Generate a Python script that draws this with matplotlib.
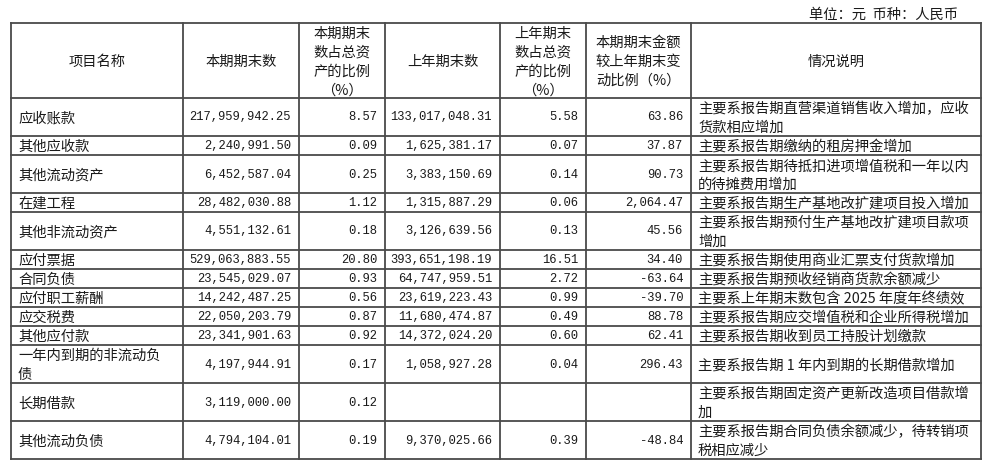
import matplotlib
matplotlib.use("Agg")
import matplotlib.pyplot as plt

plt.rcParams['font.family'] = ['Noto Sans CJK SC', 'DejaVu Sans']

headers = ["项目名称", "本期期末数", "本期期末\n数占总资\n产的比例\n（%）", "上年期末数",
           "上年期末\n数占总资\n产的比例\n（%）", "本期期末金额\n较上年期末变\n动比例（%）", "情况说明"]

names = ["应收账款", "其他应收款", "其他流动资产", "在建工程", "其他非流动资产", "应付票据",
         "合同负债", "应付职工薪酬", "应交税费", "其他应付款", "一年内到期的非流动负\n债",
         "长期借款", "其他流动负债"]
cur_values = ["217,959,942.25", "2,240,991.50", "6,452,587.04", "28,482,030.88", "4,551,132.61",
              "529,063,883.55", "23,545,029.07", "14,242,487.25", "22,050,203.79", "23,341,901.63",
              "4,197,944.91", "3,119,000.00", "4,794,104.01"]
cur_pct = ["8.57", "0.09", "0.25", "1.12", "0.18", "20.80", "0.93", "0.56", "0.87", "0.92",
           "0.17", "0.12", "0.19"]
prev_values = ["133,017,048.31", "1,625,381.17", "3,383,150.69", "1,315,887.29", "3,126,639.56",
               "393,651,198.19", "64,747,959.51", "23,619,223.43", "11,680,474.87", "14,372,024.20",
               "1,058,927.28", "", "9,370,025.66"]
prev_pct = ["5.58", "0.07", "0.14", "0.06", "0.13", "16.51", "2.72", "0.99", "0.49", "0.60",
            "0.04", "", "0.39"]
change_pct = ["63.86", "37.87", "90.73", "2,064.47", "45.56", "34.40", "-63.64", "-39.70",
              "88.78", "62.41", "296.43", "", "-48.84"]
notes = ["主要系报告期直营渠道销售收入增加，应收\n货款相应增加",
         "主要系报告期缴纳的租房押金增加",
         "主要系报告期待抵扣进项增值税和一年以内\n的待摊费用增加",
         "主要系报告期生产基地改扩建项目投入增加",
         "主要系报告期预付生产基地改扩建项目款项\n增加",
         "主要系报告期使用商业汇票支付货款增加",
         "主要系报告期预收经销商货款余额减少",
         "主要系上年期末数包含 2025 年度年终绩效",
         "主要系报告期应交增值税和企业所得税增加",
         "主要系报告期收到员工持股计划缴款",
         "主要系报告期 1 年内到期的长期借款增加",
         "主要系报告期固定资产更新改造项目借款增\n加",
         "主要系报告期合同负债余额减少，待转销项\n税相应减少"]
unit_note = "单位：元  币种：人民币"

# layout
col_x = [11, 183, 299, 385, 500, 586, 691, 981]
top = 23
line_h = 19
header_h = 75
text_color = '#1a1a1a'
line_color = '#4a4a4a'
cjk_size = 10.3
cjk_dy = 1.5
num_font = ['Liberation Mono', 'DejaVu Sans Mono']
num_size = 8.7

fig = plt.figure(figsize=(9.94, 4.69), dpi=100)
ax = fig.add_axes([0, 0, 1, 1])
ax.set_xlim(0, 994)
ax.set_ylim(469, 0)
ax.axis('off')

ax.text(958, 13 + cjk_dy, unit_note, ha='right', va='center', fontsize=cjk_size, color=text_color)

# row boundaries from line counts
row_y = [top, top + header_h]
for i in range(len(names)):
    n = max(names[i].count('\n'), notes[i].count('\n')) + 1
    row_y.append(row_y[-1] + n * line_h)


def draw_lines(x, yc, text, ha, **kw):
    parts = text.split('\n')
    n = len(parts)
    for k, p in enumerate(parts):
        y = yc + (k - (n - 1) / 2) * line_h + cjk_dy
        ax.text(x, y, p, ha=ha, va='center', color=text_color, **kw)


# header
yc = (row_y[0] + row_y[1]) / 2
for j, h in enumerate(headers):
    xc = (col_x[j] + col_x[j + 1]) / 2
    draw_lines(xc, yc, h, 'center', fontsize=cjk_size)

# body
pad = 7
for i in range(len(names)):
    yc = (row_y[i + 1] + row_y[i + 2]) / 2
    draw_lines(col_x[0] + pad, yc, names[i], 'left', fontsize=cjk_size)
    cols = [cur_values[i], cur_pct[i], prev_values[i], prev_pct[i], change_pct[i]]
    for j, v in enumerate(cols):
        if v:
            ax.text(col_x[j + 2] - pad - 1, yc + 0.5, v, ha='right', va='center',
                    family=num_font, fontsize=num_size, color=text_color)
    draw_lines(col_x[6] + pad, yc, notes[i], 'left', fontsize=cjk_size)

# grid
for y in row_y:
    ax.plot([col_x[0], col_x[-1]], [y, y], color=line_color, lw=1.3, solid_capstyle='projecting')
for x in col_x:
    ax.plot([x, x], [row_y[0], row_y[-1]], color=line_color, lw=1.3, solid_capstyle='projecting')

fig.savefig('out.png', dpi=100)
